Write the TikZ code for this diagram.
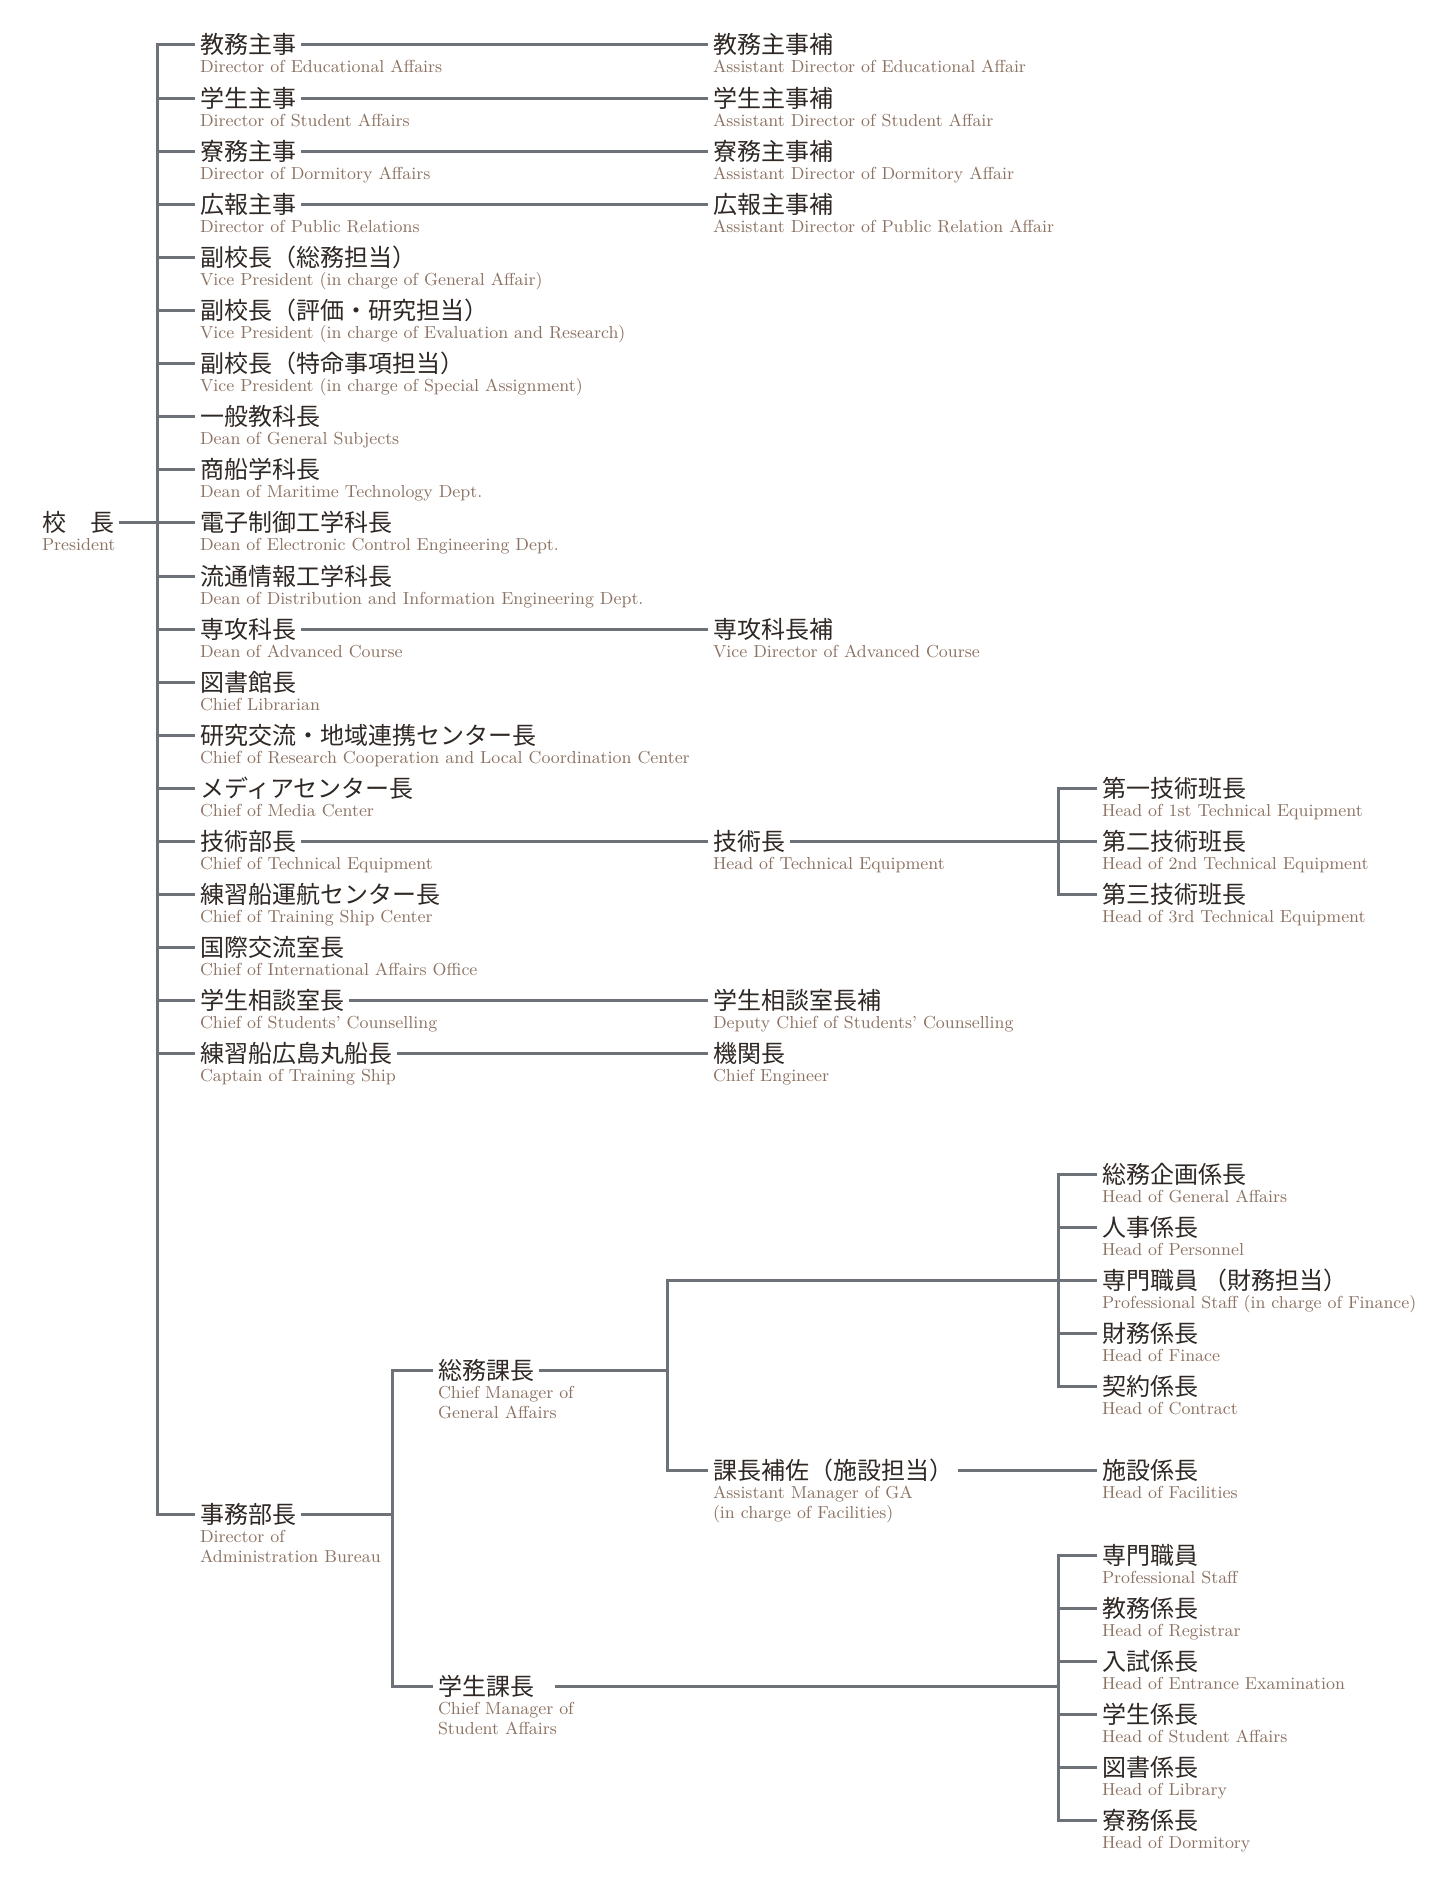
\documentclass[tikz,border=0pt]{standalone}
\usepackage{fontspec}
\newfontfamily\jpfont{Noto Sans CJK JP}
\definecolor{lncol}{HTML}{6D7178}
\definecolor{jpcol}{HTML}{2F2824}
\definecolor{encol}{HTML}{8C7262}
\tikzset{
  jp/.style={font=\jpfont\fontsize{12}{14}\selectfont, text=jpcol, anchor=west,
    inner xsep=2.5pt, inner ysep=0pt, outer sep=0pt, text height=10.5pt, text depth=1.5pt},
  en/.style={font=\fontsize{8.7}{10}\selectfont, text=encol, anchor=base west,
    inner sep=0pt, outer sep=0pt},
  ln/.style={draw=lncol, line width=1.5pt},
}
\newcommand\orgitem[5]{%
  \node[jp] (#1) at (#2-5,#3) {#4};
  \node[en] (#1e) at (#2,#3+28) {#5};}
\newcommand\twoline[2]{\vtop{\baselineskip=10pt\hbox{#1}\hbox{#2}}}
\begin{document}
\begin{tikzpicture}[x=0.5pt,y=-0.5pt]
\useasboundingbox (0,0) rectangle (1435,1882);
\fill[white] (0,0) rectangle (1435,1882);
\coordinate (bus) at (157,0);
\coordinate (gb) at (392,0);
\coordinate (sb) at (667,0);
\coordinate (cb) at (1058,0);
% president
\orgitem{pres}{42}{522.9}{校　長}{President}
% column 1
\orgitem{a1}{200}{45}{教務主事}{Director of Educational Affairs}
\orgitem{a2}{200}{98.1}{学生主事}{Director of Student Affairs}
\orgitem{a3}{200}{151.2}{寮務主事}{Director of Dormitory Affairs}
\orgitem{a4}{200}{204.3}{広報主事}{Director of Public Relations}
\orgitem{a5}{200}{257.4}{副校長（総務担当）}{Vice President (in charge of General Affair)}
\orgitem{a6}{200}{310.5}{副校長（評価・研究担当）}{Vice President (in charge of Evaluation and Research)}
\orgitem{a7}{200}{363.6}{副校長（特命事項担当）}{Vice President (in charge of Special Assignment)}
\orgitem{a8}{200}{416.7}{一般教科長}{Dean of General Subjects}
\orgitem{a9}{200}{469.8}{商船学科長}{Dean of Maritime Technology Dept.}
\orgitem{a10}{200}{522.9}{電子制御工学科長}{Dean of Electronic Control Engineering Dept.}
\orgitem{a11}{200}{576}{流通情報工学科長}{Dean of Distribution and Information Engineering Dept.}
\orgitem{a12}{200}{629.1}{専攻科長}{Dean of Advanced Course}
\orgitem{a13}{200}{682.2}{図書館長}{Chief Librarian}
\orgitem{a14}{200}{735.3}{研究交流・地域連携センター長}{Chief of Research Cooperation and Local Coordination Center}
\orgitem{a15}{200}{788.4}{メディアセンター長}{Chief of Media Center}
\orgitem{a16}{200}{841.5}{技術部長}{Chief of Technical Equipment}
\orgitem{a17}{200}{894.6}{練習船運航センター長}{Chief of Training Ship Center}
\orgitem{a18}{200}{947.7}{国際交流室長}{Chief of International Affairs Office}
\orgitem{a19}{200}{1000.8}{学生相談室長}{Chief of Students’ Counselling}
\orgitem{a20}{200}{1053.9}{練習船広島丸船長}{Captain of Training Ship}
\orgitem{adm}{200}{1514}{事務部長}{\twoline{Director of}{Administration Bureau}}
% column 2
\orgitem{b1}{713}{45}{教務主事補}{Assistant Director of Educational Affair}
\orgitem{b2}{713}{98.1}{学生主事補}{Assistant Director of Student Affair}
\orgitem{b3}{713}{151.2}{寮務主事補}{Assistant Director of Dormitory Affair}
\orgitem{b4}{713}{204.3}{広報主事補}{Assistant Director of Public Relation Affair}
\orgitem{b12}{713}{629.1}{専攻科長補}{Vice Director of Advanced Course}
\orgitem{b16}{713}{841.5}{技術長}{Head of Technical Equipment}
\orgitem{b19}{713}{1000.8}{学生相談室長補}{Deputy Chief of Students’ Counselling}
\orgitem{b20}{713}{1053.9}{機関長}{Chief Engineer}
% column 3 technical
\orgitem{c1}{1102}{788.4}{第一技術班長}{Head of 1st Technical Equipment}
\orgitem{c2}{1102}{841.5}{第二技術班長}{Head of 2nd Technical Equipment}
\orgitem{c3}{1102}{894.6}{第三技術班長}{Head of 3rd Technical Equipment}
% administration
\orgitem{gs}{438}{1370}{総務課長}{\twoline{Chief Manager of}{General Affairs}}
\orgitem{st}{438}{1686}{学生課長}{\twoline{Chief Manager of}{Student Affairs}}
\orgitem{kh}{713}{1470}{課長補佐（施設担当）}{\twoline{Assistant Manager of GA}{(in charge of Facilities)}}
\orgitem{d1}{1102}{1174}{総務企画係長}{Head of General Affairs}
\orgitem{d2}{1102}{1227}{人事係長}{Head of Personnel}
\orgitem{d3}{1102}{1280}{専門職員 （財務担当）}{Professional Staff (in charge of Finance)}
\orgitem{d4}{1102}{1333}{財務係長}{Head of Finace}
\orgitem{d5}{1102}{1386}{契約係長}{Head of Contract}
\orgitem{sh}{1102}{1470}{施設係長}{Head of Facilities}
\orgitem{e1}{1102}{1555}{専門職員}{Professional Staff}
\orgitem{e2}{1102}{1608}{教務係長}{Head of Registrar}
\orgitem{e3}{1102}{1661}{入試係長}{Head of Entrance Examination}
\orgitem{e4}{1102}{1714}{学生係長}{Head of Student Affairs}
\orgitem{e5}{1102}{1767}{図書係長}{Head of Library}
\orgitem{e6}{1102}{1820}{寮務係長}{Head of Dormitory}
% connectors
\draw[ln] (pres.east) -- (pres.east -| bus);
\draw[ln] (a1.west) -- (a1.west -| bus) -- (adm.west -| bus) -- (adm.west);
\foreach \i in {2,...,20} \draw[ln] (a\i.west -| bus) -- (a\i.west);
\foreach \i in {1,2,3,4,12,16,19,20} \draw[ln] (a\i.east) -- (b\i.west);
\draw[ln] (b16.east) -- (b16.east -| cb);
\draw[ln] (c1.west) -- (c1.west -| cb) -- (c3.west -| cb) -- (c3.west);
\draw[ln] (c2.west -| cb) -- (c2.west);
\draw[ln] (adm.east) -- (adm.east -| gb);
\draw[ln] (gs.west) -- (gs.west -| gb) -- (st.west -| gb) -- (st.west);
\draw[ln] (gs.east) -- (gs.east -| sb);
\draw[ln] (kh.west) -- (kh.west -| sb) -- (d3.west -| sb) -- (d3.west);
\draw[ln] (d1.west) -- (d1.west -| cb) -- (d5.west -| cb) -- (d5.west);
\foreach \n in {d2,d4} \draw[ln] (\n.west -| cb) -- (\n.west);
\draw[ln] (kh.east) -- (sh.west);
\draw[ln] ([xshift=8pt]st.east) -- (st.east -| cb);
\draw[ln] (e1.west) -- (e1.west -| cb) -- (e6.west -| cb) -- (e6.west);
\foreach \n in {e2,e3,e4,e5} \draw[ln] (\n.west -| cb) -- (\n.west);
\end{tikzpicture}
\end{document}
